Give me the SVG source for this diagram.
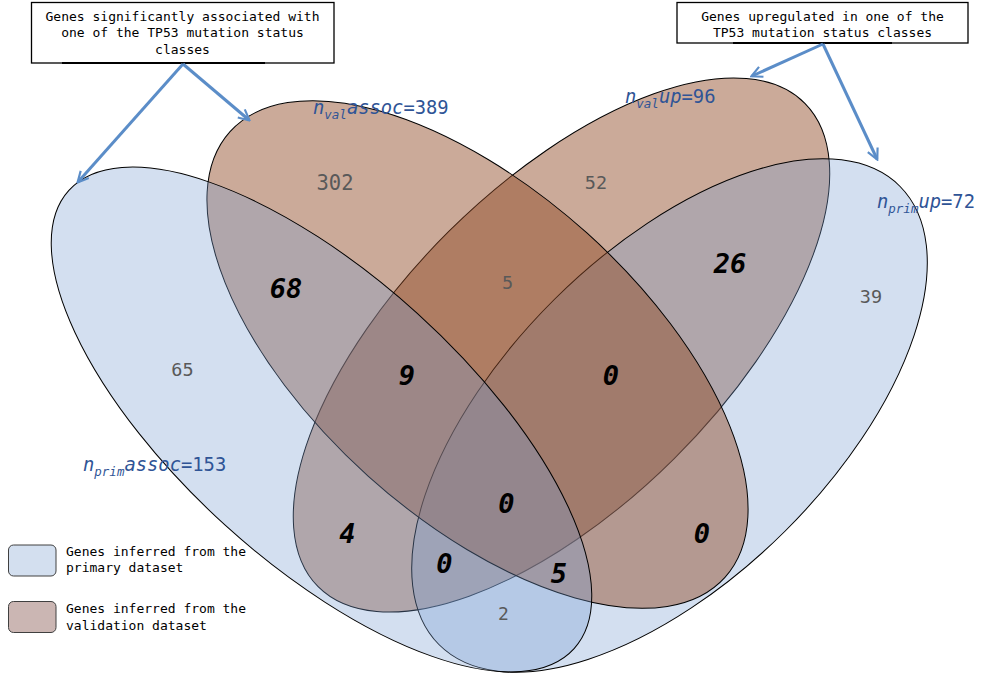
<svg xmlns="http://www.w3.org/2000/svg" width="986" height="674" viewBox="0 0 986 674">
<style>
.set{stroke:#000;stroke-width:1}
.blue{fill:rgb(120,159,210);fill-opacity:0.33}
.brown{fill:rgb(145,74,38);fill-opacity:0.47}
.cnt{font-family:"DejaVu Sans Mono","Liberation Mono",monospace;font-size:18.5px;fill:#595959;text-anchor:middle}
.big{font-family:"DejaVu Sans Mono","Liberation Mono",monospace;font-size:27px;font-weight:bold;font-style:italic;fill:#000;text-anchor:middle}
.mono{font-family:"DejaVu Sans Mono","Liberation Mono",monospace;font-size:13px;fill:#000}
.lbl{font-family:"DejaVu Sans Mono","Liberation Mono",monospace;font-size:18.8px;fill:#2F5496}
.it{font-style:italic}
.sub{font-style:italic;font-size:12.5px}
.box{fill:#fff;stroke:#000;stroke-width:1.3}
.arrow{fill:none;stroke:#5B8DC8;stroke-width:3}
</style>
<defs>
<marker id="ah" viewBox="0 0 10 10" refX="8.5" refY="5" markerWidth="4.5" markerHeight="4.5" orient="auto" markerUnits="strokeWidth">
<path d="M1,1 L9,5 L1,9" fill="none" stroke="#5B8DC8" stroke-width="1.6"/>
</marker>
</defs>

<g id="val-up"><ellipse class="set brown" cx="561.5" cy="345" rx="343" ry="160" transform="rotate(-44.8 561.5 345)"/></g>
<g id="prim-up"><ellipse class="set blue" cx="669.5" cy="415.5" rx="325" ry="163.5" transform="rotate(-44.8 669.5 415.5)"/></g>
<g id="val-assoc"><ellipse class="set brown" cx="477.5" cy="354.5" rx="333" ry="163.5" transform="rotate(42 477.5 354.5)"/></g>
<g id="prim-assoc"><ellipse class="set blue" cx="321.5" cy="419.5" rx="341" ry="143" transform="rotate(42.2 321.5 419.5)"/></g>

<g id="counts">
<text class="cnt" x="335" y="190" style="font-size:20.5px">302</text>
<text class="cnt" x="596" y="189">52</text>
<text class="cnt" x="507.5" y="289">5</text>
<text class="cnt" x="182.5" y="376">65</text>
<text class="cnt" x="871" y="302.5">39</text>
<text class="cnt" x="503.5" y="620" style="font-size:18px">2</text>
<text class="big" x="286" y="297.5">68</text>
<text class="big" x="407" y="385">9</text>
<text class="big" x="611" y="385">0</text>
<text class="big" x="730" y="273">26</text>
<text class="big" x="506.5" y="512.5">0</text>
<text class="big" x="347.5" y="543">4</text>
<text class="big" x="444.5" y="572.5">0</text>
<text class="big" x="559" y="582.5">5</text>
<text class="big" x="702" y="543">0</text>
</g>

<g id="set-labels">
<text class="lbl" x="313" y="114"><tspan class="it">n</tspan><tspan class="sub" dy="5">val</tspan><tspan class="it" dy="-5">assoc</tspan>=389</text>
<text class="lbl" x="625" y="103"><tspan class="it">n</tspan><tspan class="sub" dy="5">val</tspan><tspan class="it" dy="-5">up</tspan>=96</text>
<text class="lbl" x="83" y="471"><tspan class="it">n</tspan><tspan class="sub" dy="5">prim</tspan><tspan class="it" dy="-5">assoc</tspan>=153</text>
<text class="lbl" x="877" y="208"><tspan class="it">n</tspan><tspan class="sub" dy="5">prim</tspan><tspan class="it" dy="-5">up</tspan>=72</text>
</g>

<g id="callout-assoc">
<rect class="box" x="31.5" y="2.5" width="302.5" height="60.5"/>
<line x1="62" y1="63" x2="265" y2="63" stroke="#000" stroke-width="2"/>
<text class="mono" text-anchor="middle"><tspan x="182.5" y="20.7">Genes significantly associated with</tspan><tspan x="182.5" y="37.3">one of the TP53 mutation status</tspan><tspan x="182.5" y="54">classes</tspan></text>
</g>

<g id="callout-up">
<rect class="box" x="677" y="2.5" width="291" height="40.5"/>
<line x1="733" y1="43" x2="892" y2="43" stroke="#000" stroke-width="2"/>
<text class="mono" text-anchor="middle"><tspan x="822.5" y="20.7">Genes upregulated in one of the</tspan><tspan x="822.5" y="37.3">TP53 mutation status classes</tspan></text>
</g>

<g id="connectors">
<line class="arrow" x1="183" y1="64" x2="78" y2="182" marker-end="url(#ah)"/>
<line class="arrow" x1="183" y1="64" x2="249" y2="120" marker-end="url(#ah)"/>
<line class="arrow" x1="823" y1="44" x2="752" y2="76" marker-end="url(#ah)"/>
<line class="arrow" x1="823" y1="44" x2="877" y2="159" marker-end="url(#ah)"/>
</g>

<g id="legend">
<rect x="8.5" y="545" width="47.5" height="31" rx="5" fill="#D3DFEF" stroke="#404040" stroke-width="1"/>
<text class="mono"><tspan x="66" y="555.7">Genes inferred from the</tspan><tspan x="66" y="572.3">primary dataset</tspan></text>
<rect x="8.5" y="601.5" width="47.5" height="31" rx="5" fill="#CBB6B3" stroke="#404040" stroke-width="1"/>
<text class="mono"><tspan x="66" y="613">Genes inferred from the</tspan><tspan x="66" y="629.5">validation dataset</tspan></text>
</g>
</svg>
